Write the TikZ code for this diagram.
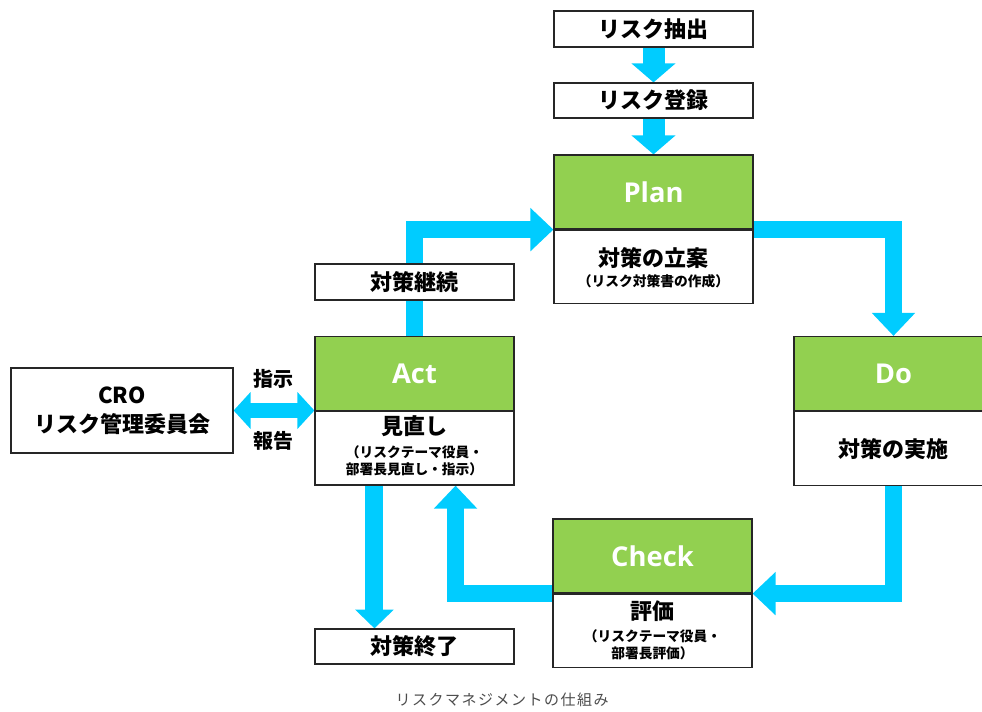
\documentclass[tikz,border=0pt]{standalone}
\usepackage{fontspec}
\usetikzlibrary{arrows.meta,calc}
\newfontfamily\jp{Noto Sans CJK JP}
\newfontfamily\hd{Open Sans}
\newfontfamily\capf{Noto Sans CJK JP}[LetterSpace=10]
\definecolor{arrowc}{HTML}{00CCFF}
\definecolor{pdgreen}{HTML}{92D050}
\pgfdeclarelayer{bg}
\pgfsetlayers{bg,main}
\begin{document}
\begin{tikzpicture}[x=0.75pt,y=-0.75pt,
  box/.style={draw=black!85,line width=0.9pt,fill=white,inner sep=0pt,minimum width=149.25pt},
  hdr/.style={box,fill=pdgreen,minimum height=55.5pt,text=white,font=\hd\bfseries\fontsize{20.5}{24}\selectfont},
  bdy/.style={box,minimum height=55pt,anchor=north},
  jt/.style={font=\jp\bfseries\fontsize{16.5}{20}\selectfont},
  st/.style={font=\jp\bfseries\fontsize{10.3}{12.75}\selectfont,align=center,inner sep=0pt},
  lbl/.style={font=\jp\bfseries\fontsize{15}{18}\selectfont,inner sep=0pt},
  bigflow/.style={draw=arrowc,line width=16.5pt,-{Triangle[length=14.25pt,width=32.25pt]}},
  flow/.style={draw=arrowc,line width=12.5pt,line join=miter,-{Triangle[length=17.25pt,width=31.5pt]}},
  endflow/.style={draw=arrowc,line width=13.5pt,-{Triangle[length=14pt,width=28pt]}},
  dblflow/.style={draw=arrowc,line width=11.25pt,{Triangle[length=12.75pt,width=27pt]}-{Triangle[length=12.75pt,width=27pt]}}
]
\useasboundingbox (0,0) rectangle (982,711);

% top boxes
\node[box,jt,minimum height=27pt] (ext) at (653.5,29) {リスク抽出};
\node[box,jt,minimum height=26.25pt] (reg) at (653.5,100.5) {リスク登録};

% Plan
\node[hdr] (planh) at (653.5,192) {Plan};
\node[bdy] (planb) at (planh.south) {};
\node[jt,inner sep=0pt] (plant) at ($(planb.north)+(0,28)$) {対策の立案};
\node[st] (plans) at ($(planb.north)+(0,52)$) {（リスク対策書の作成）};

% Do
\node[hdr] (doh) at (893.5,373.5) {Do};
\node[bdy,minimum height=55.5pt] (dob) at (doh.south) {};
\node[jt,inner sep=0pt] (dot) at (dob.center) {対策の実施};

% Check
\node[hdr] (checkh) at (652.5,556) {Check};
\node[bdy] (checkb) at (checkh.south) {};
\node[jt,inner sep=0pt] (checkt) at ($(checkb.north)+(0,18)$) {評価};
\node[st] (checks) at ($(checkb.north)+(0,51)$) {（リスクテーマ役員・\\部署長評価）};

% Act
\node[hdr] (acth) at (414.5,373.5) {Act};
\node[bdy] (actb) at (acth.south) {};
\node[jt,inner sep=0pt] (actt) at ($(actb.north)+(0,15)$) {見直し};
\node[st] (acts) at ($(actb.north)+(0,50)$) {（リスクテーマ役員・\\部署長見直し・指示）};

% side boxes
\node[box,jt,minimum height=27pt] (cont) at (414.5,282) {対策継続};
\node[box,jt,minimum height=26.25pt] (endn) at (414.5,646.5) {対策終了};
\node[box,jt,minimum width=166.5pt,minimum height=63.75pt,align=center,font=\jp\bfseries\fontsize{16.5}{22}\selectfont] (cro) at (122,410.5) {CRO\\リスク管理委員会};

% labels
\node[lbl] (shiji) at (273,379) {指示};
\node[lbl] (hokoku) at (273,441) {報告};

% caption
\node[font=\capf\fontsize{11.25}{13}\selectfont,text=black!70,inner sep=0pt] (cap) at (502,700) {リスクマネジメントの仕組み};

% arrows
\begin{pgfonlayer}{bg}
\draw[bigflow] (ext.south) -- (reg.north);
\draw[bigflow] (reg.south) -- (planh.north);
\draw[flow] (planh.south east) -| (doh.north);
\draw[flow] (dob.south) |- (checkh.south east);
\draw[flow] (checkh.south west) -| ($(actb.south west)!0.705!(actb.south east)$);
\draw[flow] (acth.north) |- (planh.south west);
\draw[endflow] ($(actb.south west)!0.3!(actb.south east)$) -- ($(endn.north west)!0.3!(endn.north east)$);
\draw[dblflow] (cro.east) -- (cro.east -| acth.west);
\end{pgfonlayer}
\end{tikzpicture}
\end{document}
